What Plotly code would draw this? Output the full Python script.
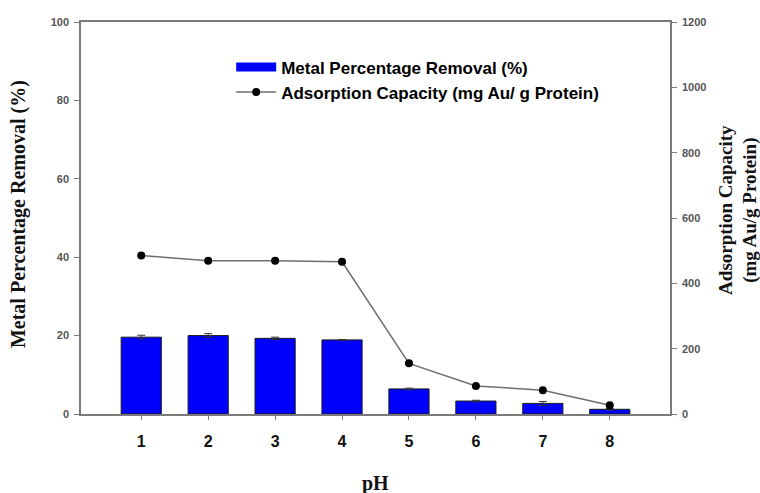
import plotly.graph_objects as go

# pH values and measured responses
ph = [1, 2, 3, 4, 5, 6, 7, 8]
removal_pct = [19.6, 20.0, 19.3, 18.9, 6.4, 3.3, 2.7, 1.2]
removal_err = [0.5, 0.5, 0.3, 0.1, 0.2, 0.2, 0.5, 0.2]
capacity = [485, 469, 469, 466, 155, 86, 73, 27]

left_ticks = [0, 20, 40, 60, 80, 100]
right_ticks = [0, 200, 400, 600, 800, 1000, 1200]

SANS = "Liberation Sans, Arial, sans-serif"
SERIF = "Liberation Serif, Times New Roman, serif"
AXIS_GREY = "#7a7a7a"
BAR_BLUE = "#0000ff"

fig = go.Figure()

fig.add_trace(go.Bar(
    x=ph, y=removal_pct, width=0.6,
    name="Metal Percentage Removal (%)",
    legendgroup="removal", showlegend=False,
    marker=dict(color=BAR_BLUE, line=dict(color="#1a1a1a", width=1)),
    error_y=dict(type="data", array=removal_err, visible=True,
                 color="#333333", thickness=1, width=4),
))

# wide flat swatch for the bar series in the legend
fig.add_trace(go.Scatter(
    x=[None], y=[None], mode="lines",
    name="Metal Percentage Removal (%)",
    legendgroup="removal",
    line=dict(color=BAR_BLUE, width=9),
))

fig.add_trace(go.Scatter(
    x=ph, y=capacity, yaxis="y2", mode="lines+markers",
    name="Adsorption Capacity (mg Au/ g Protein)",
    line=dict(color="#6e6e6e", width=1.5),
    marker=dict(color="#000000", size=8),
))

fig.update_layout(
    width=760, height=493,
    margin=dict(l=81, r=90, t=22, b=79),
    paper_bgcolor="white", plot_bgcolor="white",
    showlegend=True,
    legend=dict(
        x=0.255, y=0.93, xanchor="left", yanchor="top",
        bgcolor="rgba(0,0,0,0)",
        font=dict(family=SANS, size=17, color="#000000", weight="bold"),
        tracegroupgap=0, itemwidth=40,
    ),
    xaxis=dict(
        range=[0.1, 8.9], tickvals=ph, ticktext=[str(v) for v in ph],
        showline=True, linecolor=AXIS_GREY, linewidth=1.5, mirror=True,
        ticks="outside", ticklen=4, tickcolor=AXIS_GREY, tickwidth=1,
        ticklabelstandoff=8,
        showgrid=False, zeroline=False,
        tickfont=dict(family=SANS, size=16, color="#111111", weight="bold"),
    ),
    yaxis=dict(
        range=[0, 100], tickvals=left_ticks,
        showline=True, linecolor=AXIS_GREY, linewidth=1.5,
        ticks="outside", ticklen=5, tickcolor=AXIS_GREY, tickwidth=1,
        ticklabelstandoff=3,
        showgrid=False, zeroline=False,
        tickfont=dict(family=SANS, size=11, color="#555555", weight="bold"),
    ),
    yaxis2=dict(
        range=[0, 1200], tickvals=right_ticks, overlaying="y", side="right",
        showline=True, linecolor=AXIS_GREY, linewidth=1.5,
        ticks="outside", ticklen=5, tickcolor=AXIS_GREY, tickwidth=1,
        ticklabelstandoff=3,
        showgrid=False, zeroline=False,
        tickfont=dict(family=SANS, size=11, color="#555555", weight="bold"),
    ),
    annotations=[
        dict(text="Metal Percentage Removal (%)", textangle=-90,
             xref="paper", yref="paper", x=-0.107, y=0.51,
             xanchor="center", yanchor="middle", showarrow=False,
             font=dict(family=SERIF, size=20, color="#111111", weight="bold")),
        dict(text="Adsorption Capacity<br>(mg Au/g Protein)", textangle=-90,
             xref="paper", yref="paper", x=1.115, y=0.52,
             xanchor="center", yanchor="middle", showarrow=False,
             font=dict(family=SERIF, size=19, color="#111111", weight="bold")),
        dict(text="pH", xref="paper", yref="paper", x=0.5, y=-0.178,
             xanchor="center", yanchor="middle", showarrow=False,
             font=dict(family=SERIF, size=20, color="#111111", weight="bold")),
    ],
)

fig.write_html("out.html")
